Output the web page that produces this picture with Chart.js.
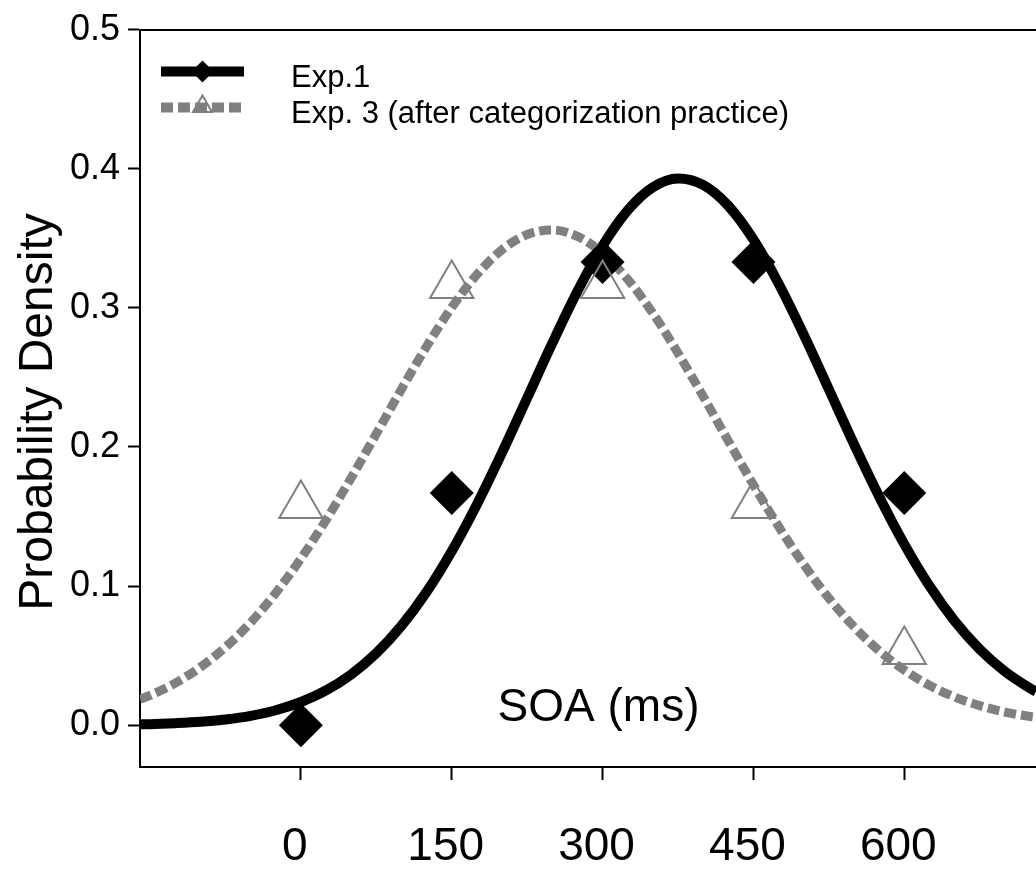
<!DOCTYPE html>
<html>
<head>
<meta charset="utf-8">
<script src="https://cdn.jsdelivr.net/npm/chart.js@4.4.0/dist/chart.umd.min.js"></script>
<style>
  html, body { margin: 0; padding: 0; background: #fff; }
  #wrap { width: 1036px; height: 871px; }
</style>
</head>
<body>
<div id="wrap"><canvas id="chart" width="1036" height="871"></canvas></div>
<script>
// fitted curves
const curveX = [-160, -150, -125, -100, -75, -50, -25, 0, 25, 50, 75, 100, 125, 150, 175, 200, 225, 250, 275, 300,
  325, 350, 375, 400, 425, 450, 475, 500, 525, 550, 575, 600, 625, 650, 675, 700, 725, 731];
const exp1Curve = [0.0007, 0.0008, 0.0015, 0.0025, 0.0042, 0.0068, 0.0108, 0.0167, 0.0250, 0.0365, 0.0518, 0.0715,
  0.0959, 0.1251, 0.1587, 0.1959, 0.2352, 0.2746, 0.3119, 0.3445, 0.3701, 0.3867, 0.3930, 0.3884, 0.3734, 0.3491,
  0.3175, 0.2808, 0.2415, 0.2021, 0.1645, 0.1302, 0.1002, 0.0750, 0.0546, 0.0387, 0.0266, 0.0242];
const exp3Curve = [0.0187, 0.0215, 0.0303, 0.0417, 0.0561, 0.0738, 0.0951, 0.1198, 0.1475, 0.1778, 0.2095, 0.2415,
  0.2723, 0.3003, 0.3239, 0.3418, 0.3527, 0.3560, 0.3514, 0.3393, 0.3205, 0.2961, 0.2675, 0.2364, 0.2044, 0.1728,
  0.1429, 0.1156, 0.0914, 0.0708, 0.0535, 0.0397, 0.0287, 0.0203, 0.0141, 0.0095, 0.0063, 0.0057];

// observed proportions
const soaTicks = [0, 150, 300, 450, 600];
const exp1Points = [0, 0.167, 0.333, 0.333, 0.167];
const exp3Points = [0.158, 0.316, 0.316, 0.158, 0.053];
const densityTicks = [0, 0.1, 0.2, 0.3, 0.4, 0.5];
const seriesNames = ["Exp.1", "Exp. 3 (after categorization practice)"];

const FONT = '"Liberation Sans", Arial, sans-serif';
const GREY = "#808080";

const toXY = (xs, ys) => xs.map((x, i) => ({ x: x, y: ys[i] }));

function drawDiamond(ctx, x, y, r) {
  ctx.beginPath();
  ctx.moveTo(x, y - r);
  ctx.lineTo(x + r, y);
  ctx.lineTo(x, y + r);
  ctx.lineTo(x - r, y);
  ctx.closePath();
  ctx.fill();
}

function drawTriangle(ctx, x, y, r) {
  ctx.beginPath();
  ctx.moveTo(x, y - r);
  ctx.lineTo(x + r * 0.866, y + r / 2);
  ctx.lineTo(x - r * 0.866, y + r / 2);
  ctx.closePath();
  ctx.stroke();
}

const textPlugin = {
  id: "textPlugin",
  afterDatasetsDraw(chart) {
    const { ctx, chartArea } = chart;
    const x = chart.scales.x;
    const y = chart.scales.y;
    ctx.save();

    // "SOA (ms)" sits inside the plot
    ctx.fillStyle = "#000";
    ctx.font = "46px " + FONT;
    ctx.textAlign = "center";
    ctx.textBaseline = "alphabetic";
    ctx.fillText("SOA (ms)", x.getPixelForValue(296), y.getPixelForValue(0.003));

    // y title
    ctx.save();
    ctx.translate(39, 412);
    ctx.rotate(-Math.PI / 2);
    ctx.font = "48px " + FONT;
    ctx.textBaseline = "middle";
    ctx.fillText("Probability Density", 0, 0);
    ctx.restore();

    // legend
    const lx0 = chartArea.left + 21, lx1 = chartArea.left + 104, lmid = (lx0 + lx1) / 2;
    const rows = [chartArea.top + 42, chartArea.top + 78];
    ctx.lineWidth = 10;
    ctx.strokeStyle = "#000";
    ctx.beginPath();
    ctx.moveTo(lx0, rows[0]);
    ctx.lineTo(lx1, rows[0]);
    ctx.stroke();
    ctx.fillStyle = "#000";
    drawDiamond(ctx, lmid, rows[0], 11);

    ctx.strokeStyle = GREY;
    ctx.setLineDash([12, 5]);
    ctx.beginPath();
    ctx.moveTo(lx0, rows[1]);
    ctx.lineTo(lx1, rows[1]);
    ctx.stroke();
    ctx.setLineDash([]);
    ctx.lineWidth = 2;
    drawTriangle(ctx, lmid, rows[1] - 1, 11);

    ctx.fillStyle = "#000";
    ctx.font = "31px " + FONT;
    ctx.textAlign = "left";
    ctx.textBaseline = "alphabetic";
    ctx.fillText(seriesNames[0], chartArea.left + 151, chartArea.top + 57);
    ctx.fillText(seriesNames[1], chartArea.left + 151, chartArea.top + 93);

    ctx.restore();
  }
};

new Chart(document.getElementById("chart"), {
  type: "scatter",
  data: {
    datasets: [
      {
        label: seriesNames[0],
        data: toXY(curveX, exp1Curve),
        showLine: true,
        borderColor: "#000",
        borderWidth: 10,
        pointRadius: 0,
        cubicInterpolationMode: "monotone",
        order: 3
      },
      {
        label: seriesNames[1],
        data: toXY(curveX, exp3Curve),
        showLine: true,
        borderColor: GREY,
        borderWidth: 9,
        borderDash: [12, 5],
        pointRadius: 0,
        cubicInterpolationMode: "monotone",
        order: 2
      },
      {
        label: seriesNames[0] + " data",
        data: toXY(soaTicks, exp1Points),
        showLine: false,
        pointStyle: "rectRot",
        pointRadius: 22,
        backgroundColor: "#000",
        borderColor: "#000",
        borderWidth: 0,
        order: 1
      },
      {
        label: seriesNames[1] + " data",
        data: toXY(soaTicks, exp3Points),
        showLine: false,
        pointStyle: "triangle",
        pointRadius: 25,
        backgroundColor: "rgba(0,0,0,0)",
        borderColor: GREY,
        borderWidth: 2,
        order: 0
      }
    ]
  },
  options: {
    responsive: false,
    animation: false,
    devicePixelRatio: 1,
    layout: { padding: { top: 25, left: 0, right: 0, bottom: 0 }, autoPadding: false },
    plugins: { legend: { display: false }, tooltip: { enabled: false } },
    scales: {
      x: {
        type: "linear",
        position: "bottom",
        min: -160,
        max: 731,
        border: { color: "#000", width: 2 },
        grid: { drawOnChartArea: false, tickLength: 13, tickColor: "#000", tickWidth: 2 },
        ticks: { color: "#000", font: { family: FONT, size: 46 }, padding: 40, labelOffset: -6, maxRotation: 0, autoSkip: false },
        afterBuildTicks: s => { s.ticks = soaTicks.map(v => ({ value: v })); },
        afterFit: s => { s.height = 104; }
      },
      xTop: {
        type: "linear",
        position: "top",
        min: -160,
        max: 731,
        border: { color: "#000", width: 2 },
        grid: { display: false },
        ticks: { display: false },
        afterFit: s => { s.height = 0; }
      },
      y: {
        min: -0.03,
        max: 0.5,
        border: { color: "#000", width: 2 },
        grid: { drawOnChartArea: false, tickLength: 12, tickColor: "#000", tickWidth: 2 },
        ticks: { color: "#000", font: { family: FONT, size: 36 }, padding: 8, callback: v => v.toFixed(1) },
        afterBuildTicks: s => { s.ticks = densityTicks.map(v => ({ value: v })); },
        afterFit: s => { s.width = 140; }
      }
    }
  },
  plugins: [textPlugin]
});
</script>
</body>
</html>
